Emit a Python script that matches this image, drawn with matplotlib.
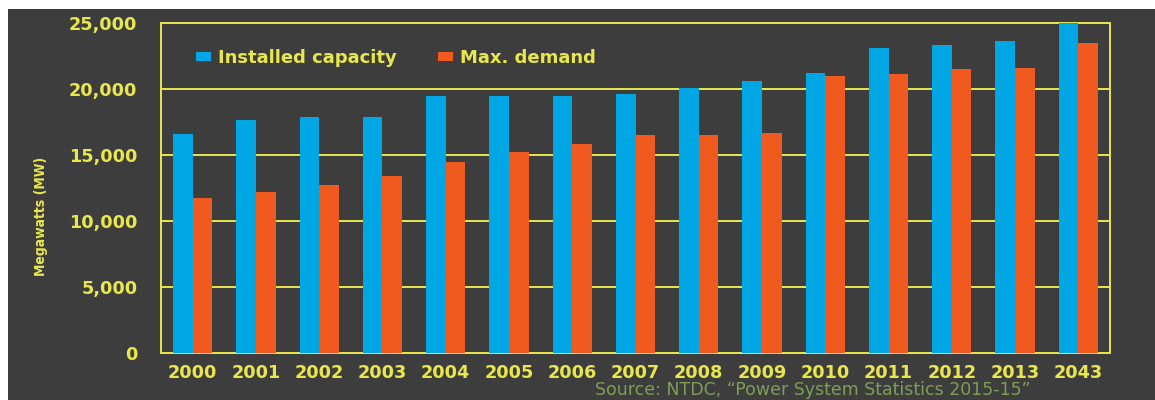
import numpy as np
import matplotlib
matplotlib.use('Agg')
import matplotlib.pyplot as plt
from matplotlib.patches import Rectangle, Patch

# ----------------------------------------------------------------------
#   Data
# ----------------------------------------------------------------------

years = ['2000', '2001', '2002', '2003', '2004', '2005', '2006', '2007',
         '2008', '2009', '2010', '2011', '2012', '2013', '2043']
installed = [16600, 17650, 17900, 17900, 19470, 19500, 19500, 19650,
             20100, 20600, 21200, 23100, 23300, 23600, 25000]
demand = [11750, 12200, 12750, 13400, 14450, 15200, 15850, 16500,
          16500, 16700, 21000, 21100, 21500, 21600, 23500]
yticks = [0, 5000, 10000, 15000, 20000, 25000]

# ----------------------------------------------------------------------
#   Style
# ----------------------------------------------------------------------

bg = '#3d3d3d'
yellow = '#e8e64e'
blue = '#00a7e4'
orange = '#f05a1f'
green = '#7f9d55'

plt.rcParams['font.family'] = 'DejaVu Sans'

fig = plt.figure(figsize=(11.55, 4.0), dpi=100)
fig.patch.set_facecolor('white')
fig.patches.append(Rectangle((8 / 1155., 0), 1, (400 - 9) / 400.,
                             transform=fig.transFigure, facecolor=bg,
                             edgecolor='none', zorder=-10))

ax = fig.add_axes([161 / 1155., 47 / 400., 949 / 1155., 330 / 400.])
ax.set_facecolor(bg)

x = np.arange(len(years))
w = 0.31
ax.bar(x - w / 2, installed, w, color=blue, zorder=3)
ax.bar(x + w / 2, demand, w, color=orange, zorder=3)

ax.set_xlim(-0.5, len(years) - 0.5)
ax.set_ylim(0, 25000)
ax.set_yticks(yticks)
ax.set_yticklabels(['{:,}'.format(v) for v in yticks])
ax.set_xticks(x)
ax.set_xticklabels(years)
ax.tick_params(axis='both', length=0, colors=yellow, labelsize=12.7)
ax.tick_params(axis='y', pad=17)
ax.tick_params(axis='x', pad=8)
for tl in ax.get_xticklabels() + ax.get_yticklabels():
    tl.set_fontweight('bold')

ax.grid(axis='y', color=yellow, linewidth=1.4, zorder=1)
ax.set_axisbelow(True)
for s in ax.spines.values():
    s.set_color(yellow)
    s.set_linewidth(1.4)

# legend
handles = [Patch(facecolor=blue, label='Installed capacity'),
           Patch(facecolor=orange, label='Max. demand')]
lg = ax.legend(handles=handles, ncol=2, loc='center left',
               bbox_to_anchor=(0.037, 0.894), frameon=False,
               borderpad=0, borderaxespad=0, handlelength=0.8,
               handleheight=0.45, handletextpad=0.4, columnspacing=2.3,
               prop={'weight': 'bold', 'size': 13})
for t in lg.get_texts():
    t.set_color(yellow)

fig.text(41 / 1155., 1 - 216 / 400., 'Megawatts (MW)', rotation=90,
         color=yellow, fontsize=10, fontweight='bold',
         fontstretch='condensed', ha='center', va='center')

fig.text(595 / 1155., 0.002, 'Source: NTDC, \u201cPower System Statistics 2015-15\u201d',
         color=green, fontsize=12.5, ha='left', va='bottom')

fig.savefig('out.png', dpi=100, facecolor=fig.get_facecolor())
